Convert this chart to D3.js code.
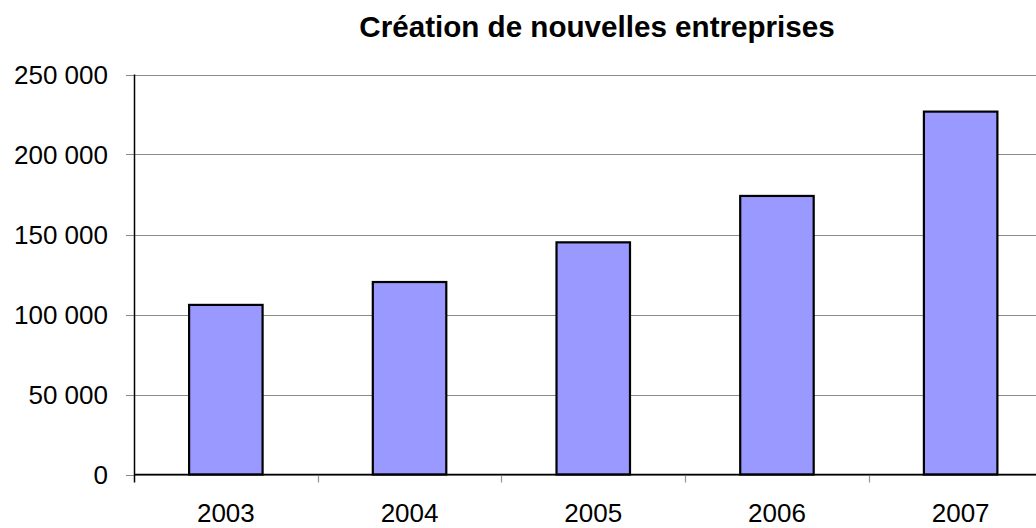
<!DOCTYPE html>
<html><head><meta charset="utf-8">
<script src="https://cdn.jsdelivr.net/npm/d3@7"></script>
<style>body{margin:0;background:#fff}svg{display:block}text{font-family:"Liberation Sans",Arial,sans-serif}</style>
</head><body>
<svg id="c" width="1036" height="528"></svg>
<script>
const years = ["2003","2004","2005","2006","2007"];
const values = [106000, 120300, 145100, 174100, 226800];
const yTicks = [0, 50000, 100000, 150000, 200000, 250000];
const title = "Création de nouvelles entreprises";

(function () {
const svg = d3.select("#c");
const plotL = 134, plotR = 1052.5, plotT = 74.5, plotB = 474.5;
const x = d3.scaleBand().domain(years).range([plotL, plotR]).paddingInner(0.6).paddingOuter(0.3);
const y = d3.scaleLinear().domain([0, 250000]).range([plotB, plotT]);
const fmt = v => d3.format(",")(v).replace(/,/g, " ");

// gridlines + left ticks
svg.append("g").selectAll("line").data(yTicks).join("line")
  .attr("x1", plotL - 8).attr("x2", 1036)
  .attr("y1", d => Math.round(y(d)) + 0.5).attr("y2", d => Math.round(y(d)) + 0.5)
  .attr("stroke", "#8a8a8a").attr("stroke-width", 1);

// y labels
svg.append("g").selectAll("text").data(yTicks).join("text")
  .attr("x", 108).attr("y", d => y(d)).attr("dy", "0.35em")
  .attr("text-anchor", "end").attr("font-size", 26).attr("fill", "#000")
  .text(fmt);

// bars
svg.append("g").selectAll("rect").data(values).join("rect")
  .attr("x", (d, i) => x(years[i])).attr("width", x.bandwidth())
  .attr("y", d => y(d)).attr("height", d => y(0) - y(d))
  .attr("fill", "#9999ff").attr("stroke", "#000").attr("stroke-width", 2.2);

// x axis
const bounds = years.map((d, i) => plotL + i * x.step());
svg.append("g").selectAll("line").data(bounds.slice(1)).join("line")
  .attr("x1", d => Math.round(d) + 0.5).attr("x2", d => Math.round(d) + 0.5)
  .attr("y1", plotB).attr("y2", plotB + 8)
  .attr("stroke", "#999").attr("stroke-width", 1.3);
svg.append("line").attr("x1", plotL).attr("x2", 1036).attr("y1", plotB).attr("y2", plotB)
  .attr("stroke", "#000").attr("stroke-width", 1.5);
svg.append("line").attr("x1", plotL + 0.5).attr("x2", plotL + 0.5).attr("y1", plotT).attr("y2", plotB + 8)
  .attr("stroke", "#000").attr("stroke-width", 1.5);

svg.append("g").selectAll("text").data(years).join("text")
  .attr("x", d => x(d) + x.bandwidth() / 2).attr("y", 522)
  .attr("text-anchor", "middle").attr("font-size", 26).attr("fill", "#000")
  .text(d => d);

svg.append("text").attr("x", 597).attr("y", 37).attr("text-anchor", "middle")
  .attr("font-size", 29.6).attr("font-weight", "bold").attr("fill", "#000").text(title);
})();
</script>
</body></html>
